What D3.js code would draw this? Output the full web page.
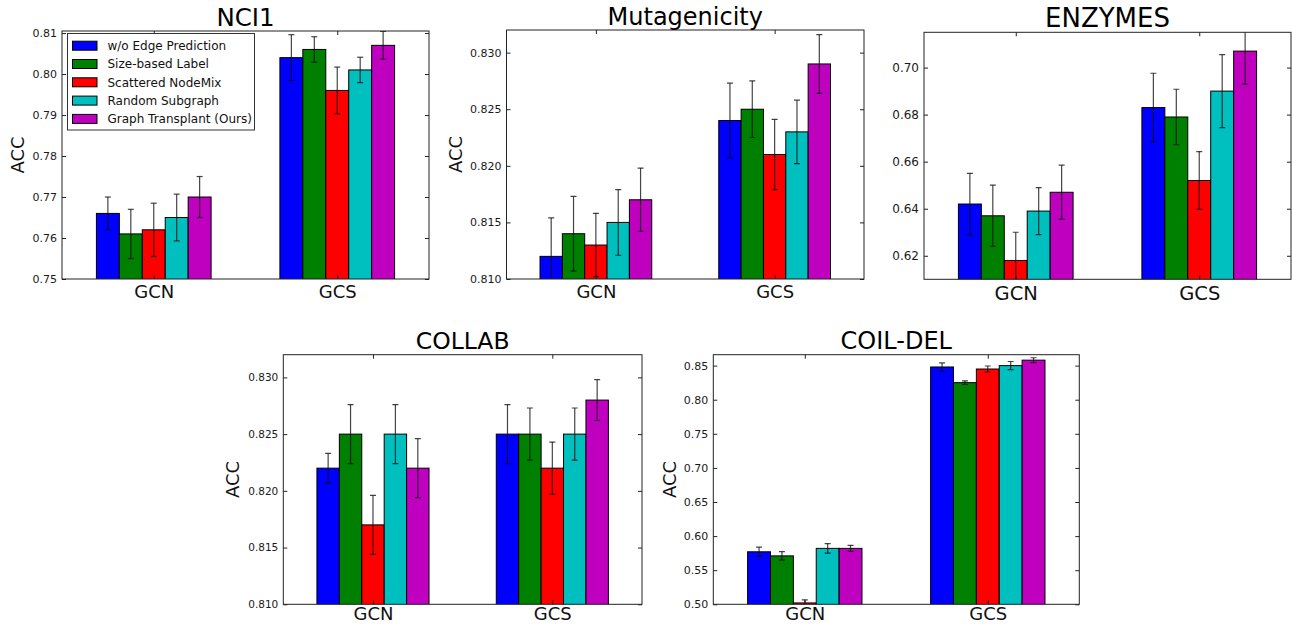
<!DOCTYPE html>
<html>
<head>
<meta charset="utf-8">
<script src="https://cdn.jsdelivr.net/npm/d3@7"></script>
<style>
  html, body { margin: 0; padding: 0; background: #fff; }
  svg { display: block; font-family: "DejaVu Sans", sans-serif; }
</style>
</head>
<body>
<svg id="chart" width="1292" height="624"></svg>
<script>
// ---------------- DATA ----------------
const models = ["GCN", "GCS"];
const methods = ["w/o Edge Prediction", "Size-based Label", "Scattered NodeMix", "Random Subgraph", "Graph Transplant (Ours)"];
const methodColors = ["#0000ff", "#008000", "#ff0000", "#00bfbf", "#bf00bf"];

// NCI1
const nci1_GCN = [0.766, 0.761, 0.762, 0.765, 0.770];
const nci1_GCS = [0.804, 0.806, 0.796, 0.801, 0.807];
const nci1_GCN_err = [0.0040, 0.0060, 0.0065, 0.0057, 0.0050];
const nci1_GCS_err = [0.0056, 0.0031, 0.0057, 0.0031, 0.0034];
const nci1Ticks = [0.75, 0.76, 0.77, 0.78, 0.79, 0.80, 0.81];

// Mutagenicity
const muta_GCN = [0.812, 0.814, 0.813, 0.815, 0.817];
const muta_GCS = [0.824, 0.825, 0.821, 0.823, 0.829];
const muta_GCN_err = [0.0034, 0.0033, 0.0028, 0.0029, 0.0028];
const muta_GCS_err = [0.0033, 0.0025, 0.0031, 0.0028, 0.0026];
const mutaTicks = [0.810, 0.815, 0.820, 0.825, 0.830];

// ENZYMES
const enz_GCN = [0.642, 0.637, 0.618, 0.639, 0.647];
const enz_GCS = [0.683, 0.679, 0.652, 0.690, 0.707];
const enz_GCN_err = [0.013, 0.013, 0.012, 0.010, 0.0115];
const enz_GCS_err = [0.0146, 0.0118, 0.0123, 0.0155, 0.014];
const enzTicks = [0.62, 0.64, 0.66, 0.68, 0.70];

// COLLAB
const collab_GCN = [0.822, 0.825, 0.817, 0.825, 0.822];
const collab_GCS = [0.825, 0.825, 0.822, 0.825, 0.828];
const collab_GCN_err = [0.0013, 0.0026, 0.0026, 0.0026, 0.0026];
const collab_GCS_err = [0.0026, 0.0023, 0.0023, 0.0023, 0.0018];
const collabTicks = [0.810, 0.815, 0.820, 0.825, 0.830];

// COIL-DEL
const coil_GCN = [0.577, 0.571, 0.502, 0.582, 0.582];
const coil_GCS = [0.848, 0.825, 0.845, 0.850, 0.858];
const coil_GCN_err = [0.0068, 0.0062, 0.0045, 0.007, 0.0045];
const coil_GCS_err = [0.006, 0.0027, 0.0044, 0.006, 0.0035];
const coilTicks = [0.50, 0.55, 0.60, 0.65, 0.70, 0.75, 0.80, 0.85];

// ---------------- LAYOUT ----------------
const panels = [
  { title: "NCI1", vals: [nci1_GCN, nci1_GCS], errs: [nci1_GCN_err, nci1_GCS_err], ticks: nci1Ticks, fmt: ".2f",
    domain: [0.75, 0.8105], box: { l: 62, t: 31, r: 429, b: 279 }, accX: 17.5, legend: true, titleSize: 24.5, tickSize: 11, labSize: 18, labGap: 19.3 },
  { title: "Mutagenicity", vals: [muta_GCN, muta_GCS], errs: [muta_GCN_err, muta_GCS_err], ticks: mutaTicks, fmt: ".3f",
    domain: [0.810, 0.832], box: { l: 506.5, t: 30, r: 864, b: 279 }, accX: 455.5, titleSize: 24, tickSize: 11, labSize: 18, labGap: 19.3 },
  { title: "ENZYMES", vals: [enz_GCN, enz_GCS], errs: [enz_GCN_err, enz_GCS_err], ticks: enzTicks, fmt: ".2f",
    domain: [0.61, 0.715], box: { l: 924, t: 32.3, r: 1291, b: 279.3 }, accX: null, titleSize: 26, tickSize: 12, labSize: 19.5, labGap: 20.5 },
  { title: "COLLAB", vals: [collab_GCN, collab_GCS], errs: [collab_GCN_err, collab_GCS_err], ticks: collabTicks, fmt: ".3f",
    domain: [0.810, 0.832], box: { l: 283.3, t: 354.7, r: 642, b: 604.3 }, accX: 232.5, titleSize: 23.5, tickSize: 10.5, labSize: 18, labGap: 15.5 },
  { title: "COIL-DEL", vals: [coil_GCN, coil_GCS], errs: [coil_GCN_err, coil_GCS_err], ticks: coilTicks, fmt: ".2f",
    domain: [0.50, 0.866], box: { l: 713.3, t: 354.7, r: 1079.3, b: 604.3 }, accX: 669.7, titleSize: 24, tickSize: 11, labSize: 18, labGap: 15.5 }
];

const svg = d3.select("#chart");
const barW = 0.125;
const frameColor = "#222";

panels.forEach((p, pi) => {
  const B = p.box;
  const x = d3.scaleLinear().domain([-0.5, 1.5]).range([B.l, B.r]);
  const y = d3.scaleLinear().domain(p.domain).range([B.b, B.t]);
  const g = svg.append("g");

  const clipId = "clip" + pi;
  svg.append("clipPath").attr("id", clipId)
    .append("rect").attr("x", B.l).attr("y", B.t).attr("width", B.r - B.l).attr("height", B.b - B.t);

  const plot = g.append("g").attr("clip-path", `url(#${clipId})`);

  // bars
  models.forEach((m, mi) => {
    p.vals[mi].forEach((v, k) => {
      const cx = mi + (k - 2) * barW;
      plot.append("rect")
        .attr("x", x(cx - barW / 2))
        .attr("y", y(v))
        .attr("width", x(cx + barW / 2) - x(cx - barW / 2))
        .attr("height", Math.max(0, y(p.domain[0] - 1) - y(v)))
        .attr("fill", methodColors[k])
        .attr("stroke", "#000")
        .attr("stroke-width", 1);
    });
  });
  // error bars
  models.forEach((m, mi) => {
    p.vals[mi].forEach((v, k) => {
      const cx = x(mi + (k - 2) * barW);
      const e = p.errs[mi][k];
      const eg = plot.append("g").attr("stroke", "#111").attr("stroke-opacity", 0.78).attr("stroke-width", 1.2);
      eg.append("line").attr("x1", cx).attr("x2", cx).attr("y1", y(v + e)).attr("y2", y(v - e));
      eg.append("line").attr("x1", cx - 3).attr("x2", cx + 3).attr("y1", y(v + e)).attr("y2", y(v + e));
      eg.append("line").attr("x1", cx - 3).attr("x2", cx + 3).attr("y1", y(v - e)).attr("y2", y(v - e));
    });
  });

  // y axis (left, inward ticks)
  const yLeft = g.append("g").attr("transform", `translate(${B.l},0)`)
    .call(d3.axisLeft(y).tickValues(p.ticks).tickFormat(d3.format(p.fmt)).tickSizeInner(-4).tickSizeOuter(0).tickPadding(5));
  yLeft.select(".domain").remove();
  yLeft.selectAll(".tick line").attr("stroke", frameColor);
  yLeft.selectAll(".tick text").attr("font-size", p.tickSize).attr("fill", "#1a1a1a")
    .attr("font-family", "DejaVu Sans").attr("x", -5);
  // right ticks
  const yRight = g.append("g").attr("transform", `translate(${B.r},0)`)
    .call(d3.axisRight(y).tickValues(p.ticks).tickFormat("").tickSizeInner(-4).tickSizeOuter(0));
  yRight.select(".domain").remove();
  yRight.selectAll(".tick line").attr("stroke", frameColor);

  // x axis
  const xb = g.append("g").attr("transform", `translate(0,${B.b})`)
    .call(d3.axisBottom(x).tickValues([0, 1]).tickFormat(i => models[i]).tickSizeInner(-4).tickSizeOuter(0));
  xb.select(".domain").remove();
  xb.selectAll(".tick line").attr("stroke", frameColor);
  xb.selectAll(".tick text").attr("font-size", p.labSize).attr("fill", "#111").attr("font-family", "DejaVu Sans")
    .attr("y", p.labGap).attr("dy", 0);
  const xt = g.append("g").attr("transform", `translate(0,${B.t})`)
    .call(d3.axisTop(x).tickValues([0, 1]).tickFormat("").tickSizeInner(-4).tickSizeOuter(0));
  xt.select(".domain").remove();
  xt.selectAll(".tick line").attr("stroke", frameColor);

  // frame
  g.append("rect").attr("x", B.l).attr("y", B.t).attr("width", B.r - B.l).attr("height", B.b - B.t)
    .attr("fill", "none").attr("stroke", frameColor).attr("stroke-width", 1);

  // title
  g.append("text").attr("x", (B.l + B.r) / 2).attr("y", B.t - 5.5)
    .attr("text-anchor", "middle").attr("font-size", p.titleSize).attr("fill", "#000").text(p.title);

  // ACC label
  if (p.accX !== null) {
    const cy = (B.t + B.b) / 2;
    g.append("text").attr("transform", `translate(${p.accX},${cy}) rotate(-90)`)
      .attr("text-anchor", "middle").attr("dy", "0.36em").attr("font-size", 18).attr("fill", "#111").text("ACC");
  }

  // legend
  if (p.legend) {
    const lg = g.append("g");
    lg.append("rect").attr("x", 67.5).attr("y", 33.5).attr("width", 187).attr("height", 96.5)
      .attr("fill", "#fff").attr("stroke", "#333").attr("stroke-width", 1);
    methods.forEach((name, k) => {
      const cy = 45.7 + k * 18.3;
      lg.append("rect").attr("x", 72.5).attr("y", cy - 4.5).attr("width", 24.5).attr("height", 9)
        .attr("fill", methodColors[k]).attr("stroke", "#000").attr("stroke-width", 1);
      lg.append("text").attr("x", 107.5).attr("y", cy).attr("dy", "0.35em")
        .attr("font-size", 12).attr("fill", "#111").text(name);
    });
  }
});
</script>
</body>
</html>
